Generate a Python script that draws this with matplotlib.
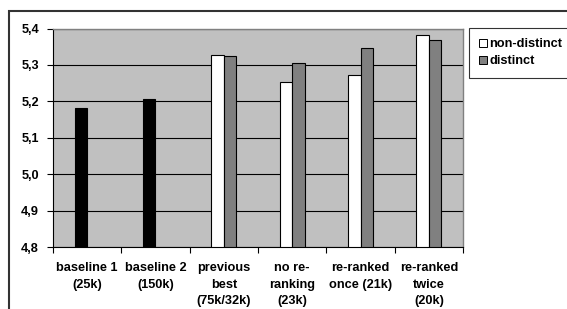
import matplotlib
matplotlib.use("Agg")
import matplotlib.pyplot as plt
from matplotlib.patches import Patch, Rectangle

categories = ["baseline 1\n(25k)", "baseline 2\n(150k)", "previous\nbest\n(75k/32k)",
              "no re-\nranking\n(23k)", "re-ranked\nonce (21k)", "re-ranked\ntwice\n(20k)"]
baseline = [5.183, 5.207]
non_distinct = [None, None, 5.327, 5.252, 5.272, 5.383]
distinct = [None, None, 5.325, 5.304, 5.347, 5.369]
y_ticks = [4.8, 4.9, 5.0, 5.1, 5.2, 5.3, 5.4]
y_labels = ["4,8", "4,9", "5,0", "5,1", "5,2", "5,3", "5,4"]

plt.rcParams['font.family'] = ['Liberation Sans', 'DejaVu Sans']
plt.rcParams['font.weight'] = 'bold'

fig = plt.figure(figsize=(5.67, 3.09), dpi=100)
ax = fig.add_axes([53 / 567, 1 - 247 / 309, 410 / 567, 218.5 / 309])

# outer chart frame (cut off at the right and bottom in the original)
fig.patches.append(Rectangle((9 / 567, -0.1), 1.0, 1 - 11 / 309 + 0.1,
                             transform=fig.transFigure, fill=False,
                             edgecolor="#333333", lw=1.5))

ax.set_facecolor("#c0c0c0")
w = 0.183
for i, v in enumerate(baseline):
    ax.bar(i - w / 2, v - 4.8, w, bottom=4.8, color="black", edgecolor="black",
           lw=0.8, zorder=3)
for i in range(len(categories)):
    if non_distinct[i] is not None:
        ax.bar(i - w / 2, non_distinct[i] - 4.8, w, bottom=4.8, color="white",
               edgecolor="black", lw=0.8, zorder=3)
    if distinct[i] is not None:
        ax.bar(i + w / 2, distinct[i] - 4.8, w, bottom=4.8, color="#808080",
               edgecolor="black", lw=0.8, zorder=3)

ax.set_xlim(-0.5, len(categories) - 0.5)
ax.set_ylim(4.8, 5.4)
ax.set_yticks(y_ticks)
ax.set_yticklabels(y_labels, fontsize=9.2, fontweight="bold")
ax.yaxis.grid(True, color="black", lw=0.8, zorder=1)
ax.set_axisbelow(True)

ax.set_xticks([i - 0.5 for i in range(len(categories) + 1)])
ax.set_xticklabels([])
ax.set_xticks(range(len(categories)), minor=True)
ax.set_xticklabels(categories, minor=True, fontsize=9.2, fontweight="bold",
                   linespacing=1.55, va="top")
ax.tick_params(axis="x", which="minor", length=0, pad=10.5)
ax.tick_params(axis="both", which="major", length=4, width=0.8, color="black")
ax.tick_params(axis="y", pad=6)

for s in ["left", "bottom"]:
    ax.spines[s].set_color("black")
    ax.spines[s].set_linewidth(0.8)
for s in ["top", "right"]:
    ax.spines[s].set_color("#808080")
    ax.spines[s].set_linewidth(1.0)

handles = [Patch(facecolor="white", edgecolor="black", lw=0.7),
           Patch(facecolor="#808080", edgecolor="black", lw=0.7)]
leg = fig.legend(handles, ["non-distinct", "distinct"], loc="upper left",
                 bbox_to_anchor=(469 / 567, 1 - 28 / 309), fontsize=9.2,
                 frameon=True, fancybox=False, edgecolor="black",
                 handlelength=0.6, handleheight=0.6, handletextpad=0.2,
                 labelspacing=0.4, borderpad=0.8, borderaxespad=0)
leg.get_frame().set_linewidth(0.8)
for t in leg.get_texts():
    t.set_fontweight("bold")

fig.savefig("out.png", dpi=100)
